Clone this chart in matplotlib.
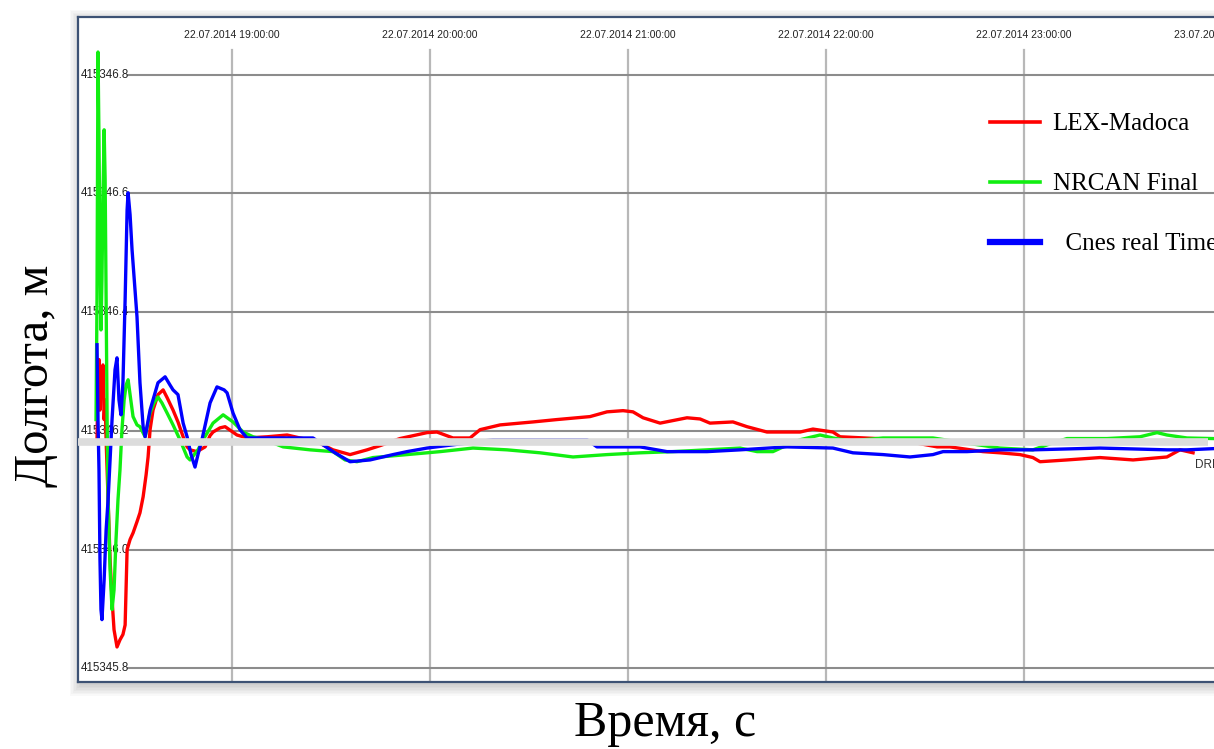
import matplotlib
matplotlib.use("Agg")
import matplotlib.pyplot as plt
from matplotlib.lines import Line2D
from matplotlib.patches import Rectangle

# time of day, hours (22.07.2014); longitude component, metres
lex_t = [18.318, 18.323, 18.328, 18.333, 18.338, 18.343, 18.348, 18.354, 18.359, 18.364,
         18.374, 18.384, 18.394, 18.404, 18.419, 18.434, 18.449, 18.460, 18.470, 18.485,
         18.500, 18.520, 18.535, 18.551, 18.566, 18.576, 18.586, 18.601, 18.626, 18.652,
         18.672, 18.702, 18.727, 18.753, 18.773, 18.788, 18.823, 18.864, 18.889, 18.904,
         18.939, 18.965, 18.995, 19.025, 19.076, 19.177, 19.278, 19.343, 19.419, 19.510,
         19.596, 19.682, 19.747, 19.848, 19.985, 20.035, 20.116, 20.202, 20.253, 20.354,
         20.520, 20.641, 20.808, 20.894, 20.975, 21.025, 21.076, 21.162, 21.298, 21.364,
         21.414, 21.530, 21.601, 21.702, 21.869, 21.934, 22.035, 22.071, 22.258, 22.399,
         22.561, 22.626, 22.793, 22.879, 22.980, 23.045, 23.081, 23.217, 23.384, 23.551,
         23.722, 23.788, 23.854]
lex_v = [415346.185, 415346.286, 415346.320, 415346.235, 415346.303, 415346.261, 415346.311, 415346.219, 415346.252, 415346.185,
         415346.084, 415345.983, 415345.916, 415345.865, 415345.836, 415345.848, 415345.857, 415345.873, 415346.000, 415346.017,
         415346.028, 415346.047, 415346.062, 415346.089, 415346.126, 415346.156, 415346.202, 415346.235, 415346.261, 415346.269,
         415346.256, 415346.235, 415346.215, 415346.190, 415346.173, 415346.168, 415346.165, 415346.173, 415346.192, 415346.198,
         415346.205, 415346.207, 415346.200, 415346.193, 415346.188, 415346.190, 415346.193, 415346.188, 415346.183, 415346.168,
         415346.160, 415346.168, 415346.175, 415346.187, 415346.197, 415346.198, 415346.188, 415346.188, 415346.202, 415346.210,
         415346.215, 415346.219, 415346.224, 415346.232, 415346.234, 415346.232, 415346.222, 415346.213, 415346.222, 415346.220,
         415346.213, 415346.215, 415346.207, 415346.198, 415346.198, 415346.203, 415346.198, 415346.190, 415346.187, 415346.183,
         415346.173, 415346.173, 415346.165, 415346.163, 415346.160, 415346.155, 415346.148, 415346.151, 415346.155, 415346.151,
         415346.156, 415346.168, 415346.163]

nrcan_t = [18.313, 18.318, 18.323, 18.328, 18.333, 18.338, 18.343, 18.348, 18.354, 18.359,
           18.364, 18.369, 18.374, 18.384, 18.394, 18.404, 18.414, 18.424, 18.434, 18.444,
           18.455, 18.465, 18.475, 18.485, 18.500, 18.520, 18.535, 18.561, 18.586, 18.606,
           18.626, 18.646, 18.672, 18.702, 18.737, 18.773, 18.788, 18.828, 18.854, 18.904,
           18.955, 19.005, 19.056, 19.106, 19.167, 19.258, 19.394, 19.510, 19.571, 19.631,
           19.712, 19.884, 20.051, 20.217, 20.389, 20.556, 20.722, 20.894, 21.061, 21.227,
           21.399, 21.566, 21.652, 21.732, 21.803, 21.869, 21.970, 22.035, 22.121, 22.288,
           22.540, 22.677, 22.879, 23.045, 23.131, 23.217, 23.419, 23.586, 23.672, 23.722,
           23.823, 23.955]
nrcan_v = [415346.219, 415346.421, 415346.838, 415346.690, 415346.505, 415346.370, 415346.454, 415346.589, 415346.707, 415346.623,
           415346.421, 415346.219, 415346.084, 415345.966, 415345.899, 415345.932, 415346.017, 415346.084, 415346.134, 415346.202,
           415346.252, 415346.277, 415346.286, 415346.261, 415346.224, 415346.210, 415346.207, 415346.190, 415346.230, 415346.247,
           415346.257, 415346.247, 415346.230, 415346.210, 415346.185, 415346.156, 415346.151, 415346.168, 415346.185, 415346.213,
           415346.227, 415346.215, 415346.198, 415346.190, 415346.185, 415346.173, 415346.168, 415346.165, 415346.151, 415346.148,
           415346.155, 415346.160, 415346.165, 415346.171, 415346.168, 415346.163, 415346.156, 415346.160, 415346.163, 415346.165,
           415346.168, 415346.171, 415346.165, 415346.165, 415346.176, 415346.185, 415346.193, 415346.188, 415346.183, 415346.188,
           415346.188, 415346.181, 415346.171, 415346.168, 415346.178, 415346.187, 415346.187, 415346.190, 415346.197, 415346.193,
           415346.188, 415346.187]

cnes_t = [18.318, 18.323, 18.328, 18.333, 18.338, 18.343, 18.354, 18.364, 18.374, 18.384,
          18.394, 18.409, 18.419, 18.429, 18.439, 18.449, 18.460, 18.470, 18.475, 18.485,
          18.495, 18.520, 18.535, 18.551, 18.561, 18.586, 18.626, 18.662, 18.687, 18.702,
          18.727, 18.753, 18.773, 18.793, 18.813, 18.828, 18.848, 18.889, 18.924, 18.960,
          18.975, 19.005, 19.040, 19.076, 19.242, 19.409, 19.510, 19.596, 19.697, 19.813,
          19.884, 19.985, 20.152, 20.318, 20.606, 20.793, 20.843, 21.061, 21.197, 21.399,
          21.566, 21.803, 22.035, 22.136, 22.288, 22.424, 22.540, 22.591, 22.712, 22.879,
          23.045, 23.384, 23.722, 23.823, 23.955]
cnes_v = [415346.345, 415346.219, 415346.134, 415345.983, 415345.899, 415345.882, 415345.949, 415346.033, 415346.084, 415346.151,
          415346.219, 415346.303, 415346.323, 415346.252, 415346.227, 415346.281, 415346.421, 415346.572, 415346.601, 415346.564,
          415346.505, 415346.392, 415346.281, 415346.207, 415346.190, 415346.235, 415346.281, 415346.291, 415346.277, 415346.269,
          415346.261, 415346.213, 415346.190, 415346.160, 415346.139, 415346.160, 415346.185, 415346.247, 415346.274, 415346.269,
          415346.264, 415346.230, 415346.202, 415346.188, 415346.188, 415346.188, 415346.165, 415346.148, 415346.151, 415346.160,
          415346.165, 415346.171, 415346.178, 415346.185, 415346.185, 415346.185, 415346.173, 415346.173, 415346.165, 415346.165,
          415346.168, 415346.173, 415346.171, 415346.163, 415346.160, 415346.156, 415346.160, 415346.165, 415346.165, 415346.168,
          415346.168, 415346.171, 415346.168, 415346.168, 415346.170]

hour_ticks = [19, 20, 21, 22, 23, 24]
hour_labels = ["22.07.2014 19:00:00", "22.07.2014 20:00:00", "22.07.2014 21:00:00",
               "22.07.2014 22:00:00", "22.07.2014 23:00:00", "23.07.2014 00:00:00"]
lon_ticks = [415345.8, 415346.0, 415346.2, 415346.4, 415346.6, 415346.8]
lon_labels = ["415345.8", "415346.0", "415346.2", "415346.4", "415346.6", "415346.8"]

drb_level = 415346.182
drb_end = 23.93

series_names = ["LEX-Madoca", "NRCAN Final", "  Cnes real Time"]
series_colors = ["#ff0000", "#11ee11", "#0000ff"]

sans = ["Liberation Sans", "DejaVu Sans"]
serif = ["Liberation Serif", "DejaVu Serif"]

W, H = 1214, 749
fig = plt.figure(figsize=(W / 100, H / 100), dpi=100, facecolor="white")

# soft drop shadow behind the plot frame
for k in range(8):
    pad = 1.5 * k
    fig.add_artist(Rectangle(((78 - pad + 2) / W, (67 - 3 - pad) / H),
                             (1162 + 2 * pad) / W, (665 + 2 * pad) / H,
                             transform=fig.transFigure, facecolor="black",
                             edgecolor="none", alpha=0.022, zorder=-5))

ax = fig.add_axes([78 / W, 67 / H, 1162 / W, 665 / H])
ax.set_facecolor("white")
ax.set_xlim(18.222, 24.091)
ax.set_ylim(415345.777, 415346.897)
ax.set_xticks([])
ax.set_yticks([])
for side in ax.spines.values():
    side.set_color("#3d5274")
    side.set_linewidth(1.6)

# grid with labels sitting inside the frame
for h, lab in zip(hour_ticks, hour_labels):
    ax.axvline(h, ymax=0.95, color="#b8b8b8", lw=1.6, zorder=0)
    ax.text(h, 0.973, lab, transform=ax.get_xaxis_transform(), ha="center",
            va="center", fontsize=7.5, family=sans, color="#222222", zorder=1)
for v, lab in zip(lon_ticks, lon_labels):
    ax.axhline(v, xmin=0.043, color="#8c8c8c", lw=1.5, zorder=0)
    ax.text(0.002, v, lab, transform=ax.get_yaxis_transform(), ha="left",
            va="center", fontsize=8.3, family=sans, color="#222222", zorder=1)

ax.plot(lex_t, lex_v, color=series_colors[0], lw=2.4, zorder=3)
ax.plot(nrcan_t, nrcan_v, color=series_colors[1], lw=2.4, zorder=3)
ax.plot(cnes_t, cnes_v, color=series_colors[2], lw=2.4, zorder=3)

# reference level band
ax.plot([18.222, drb_end], [drb_level, drb_level], color="#dcdcdc", lw=5.5,
        solid_capstyle="butt", zorder=4)
ax.text(23.864, 415346.143, "DRB", fontsize=8.5, family=sans, color="#333333",
        ha="left", va="center", zorder=5)

handles = [Line2D([], [], color=series_colors[0], lw=2.6),
           Line2D([], [], color=series_colors[1], lw=2.6),
           Line2D([], [], color=series_colors[2], lw=4.5)]
ax.legend(handles, series_names, loc="upper left", bbox_to_anchor=(0.785, 0.856),
          frameon=False, prop={"family": serif, "size": 18}, handlelength=2.0,
          handletextpad=0.5, labelspacing=1.5, borderpad=0, borderaxespad=0)

fig.text(36 / W, 1 - 376 / H, "Долгота, м", rotation=90, ha="center", va="center",
         fontsize=35, family=serif)
fig.text(665 / W, 1 - 724 / H, "Время, с", ha="center", va="center",
         fontsize=36, family=serif)

fig.savefig("out.png", dpi=100, facecolor="white")
